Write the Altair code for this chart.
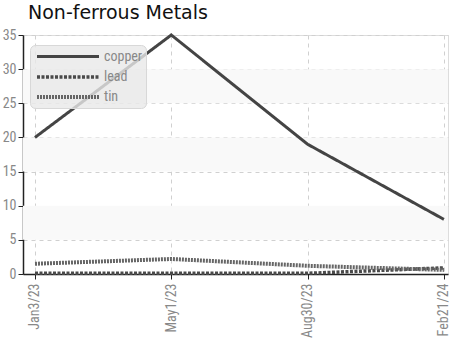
import altair as alt
import pandas as pd

dates = ["Jan3/23", "May1/23", "Aug30/23", "Feb21/24"]
copper = [20, 35, 19, 8]
lead = [0.1, 0.1, 0.1, 0.9]
tin = [1.5, 2.2, 1.2, 0.6]
series = ["copper", "lead", "tin"]
band_lo = [5, 15, 25]
band_hi = [10, 20, 30]
y_ticks = [0, 5, 10, 15, 20, 25, 30, 35]

rows = []
for name, vals in zip(series, [copper, lead, tin]):
    for i, (d, v) in enumerate(zip(dates, vals)):
        rows.append({"idx": i, "date": d, "metal": name, "value": v})
df = pd.DataFrame(rows)
bands = pd.DataFrame({"lo": band_lo, "hi": band_hi})

label_expr = "[" + ",".join(f"'{d}'" for d in dates) + "][datum.value]"
FONT = "Roboto Condensed, Liberation Sans Narrow, Roboto, sans-serif"

xscale = alt.Scale(domain=[-0.088, 3.03], nice=False, zero=False)
yscale = alt.Scale(domain=[0, 35], nice=False)

yaxis = alt.Axis(values=y_ticks, title=None,
                 labelColor="#888888", labelFont=FONT, labelFontSize=14,
                 labelOverlap=False, labelFlush=False,
                 grid=True, gridDash=[4, 4], gridColor="#d0d0d0",
                 domainColor="#222222", domainWidth=1.5,
                 tickColor="#222222", tickSize=5, labelPadding=2)

band_layer = alt.Chart(bands).mark_rect(color="#f9f9f9").encode(
    x=alt.value(0), x2=alt.value(425),
    y=alt.Y("lo:Q", scale=yscale, axis=yaxis, title=None), y2="hi:Q",
)

LEG = dict(title=None, orient="none", legendX=7, legendY=10)

lines = alt.Chart(df).mark_line().encode(
    x=alt.X("idx:Q", scale=xscale,
            axis=alt.Axis(values=[0, 1, 2, 3], labelExpr=label_expr, title=None,
                          labelAngle=270, labelAlign="right", labelBaseline="middle",
                          labelColor="#888888", labelFont=FONT, labelFontSize=14,
                          labelPadding=4, labelOverlap=False,
                          grid=True, gridDash=[4, 4], gridColor="#d0d0d0",
                          domainColor="#222222", domainWidth=1.5,
                          tickColor="#222222", tickSize=5)),
    y=alt.Y("value:Q", scale=yscale, axis=yaxis, title=None),
    color=alt.Color("metal:N", scale=alt.Scale(domain=series, range=["#444444", "#4a4a4a", "#666666"]),
                    legend=alt.Legend(**LEG,
                                      fillColor="rgba(232,232,232,0.8)", strokeColor="#d8d8d8",
                                      cornerRadius=5, padding=3,
                                      symbolType="M-4.43,0H4.43", symbolSize=196, symbolStrokeWidth=3,
                                      symbolOffset=26,
                                      labelColor="#888888", labelFont=FONT, labelFontSize=14,
                                      labelOffset=27, rowPadding=4)),
    strokeDash=alt.StrokeDash("metal:N", scale=alt.Scale(domain=series, range=[[1, 0], [3, 1.5], [2, 1]]),
                              legend=alt.Legend(**LEG)),
    strokeWidth=alt.StrokeWidth("metal:N", scale=alt.Scale(domain=series, range=[3, 4, 2.5]),
                                legend=alt.Legend(**LEG)),
    detail="metal:N",
)

chart = (band_layer + lines).properties(
    width=425, height=239,
    title=alt.TitleParams("Non-ferrous Metals", anchor="start", frame="group", dx=5, offset=5,
                          font="DejaVu Sans", fontSize=19, fontWeight="normal", color="#111111"),
    autosize=alt.AutoSizeParams(type="none"),
    padding={"left": 23, "top": 35, "right": 5, "bottom": 69},
).configure_view(stroke=None).configure(background="white")

chart.save("out.html", embed_options={"renderer": "svg", "actions": False})
